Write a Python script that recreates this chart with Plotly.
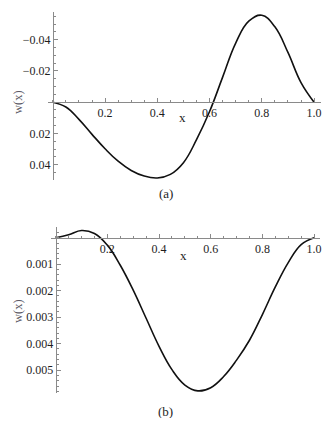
import plotly.graph_objects as go

# ---- data ----
x_vals = [0.0, 0.05, 0.1, 0.15, 0.2, 0.25, 0.3, 0.35, 0.4, 0.45, 0.5,
          0.55, 0.6, 0.65, 0.7, 0.75, 0.8, 0.85, 0.9, 0.95, 1.0]

w_a = [0.0, 0.0031, 0.0110, 0.0206, 0.0298, 0.0378, 0.0437, 0.0473, 0.0485,
       0.0462, 0.0387, 0.0240, 0.0060, -0.0160, -0.0378, -0.0518, -0.0556,
       -0.0482, -0.0318, -0.0125, 0.0]

w_b = [0.0, -0.00011, -0.00027, -0.00016, 0.00028, 0.00104, 0.00198, 0.00304,
       0.00410, 0.00498, 0.00556, 0.00578, 0.00566, 0.00524, 0.00462, 0.00387,
       0.00290, 0.00186, 0.00094, 0.00026, 0.0]

x_ticks = [0.2, 0.4, 0.6, 0.8, 1.0]
x_ticktext = ["0.2", "0.4", "0.6", "0.8", "1.0"]

ya_ticks = [-0.04, -0.02, 0.02, 0.04]
ya_ticktext = ["\u22120.04", "\u22120.02", "0.02", "0.04"]

yb_ticks = [0.001, 0.002, 0.003, 0.004, 0.005]
yb_ticktext = ["0.001", "0.002", "0.003", "0.004", "0.005"]

# page body keeps its default 8px margin, so the figure is drawn 8px in
OFF = 8
W, H = 335 - 2 * OFF, 426 - 2 * OFF
FONT = "Liberation Serif"
AXC = "#8a8a8a"
TXT = "#1e1e1e"


def px_x(p):
    return (p - OFF) / W


def px_y(p):
    return 1 - (p - OFF) / H


fig = go.Figure()
fig.add_trace(go.Scatter(x=x_vals, y=w_a, mode="lines", xaxis="x", yaxis="y",
                         line=dict(color="#111111", width=1.6, shape="spline", smoothing=1.2),
                         hoverinfo="skip", showlegend=False))
fig.add_trace(go.Scatter(x=x_vals, y=w_b, mode="lines", xaxis="x2", yaxis="y2",
                         line=dict(color="#111111", width=1.6, shape="spline", smoothing=1.2),
                         hoverinfo="skip", showlegend=False))

common_x = dict(showline=True, linecolor=AXC, linewidth=1, showgrid=False, zeroline=False,
                ticks="inside", ticklen=4, tickcolor=AXC, tickwidth=1,
                tickfont=dict(family=FONT, size=12, color=TXT),
                minor=dict(ticks="inside", ticklen=2, tickcolor=AXC, tickmode="linear",
                           tick0=0, dtick=0.05, showgrid=False))
common_y = dict(showline=True, linecolor=AXC, linewidth=1, showgrid=False, zeroline=False,
                ticks="inside", ticklen=4, tickcolor=AXC, tickwidth=1,
                tickfont=dict(family=FONT, size=12, color=TXT))

fig.update_layout(
    width=W, height=H,
    margin=dict(l=0, r=0, t=0, b=0),
    paper_bgcolor="white", plot_bgcolor="white",
    xaxis=dict(common_x, domain=[px_x(48), px_x(323)], range=[-0.0194, 1.0266],
               anchor="free", position=px_y(102),
               tickmode="array", tickvals=x_ticks, ticktext=x_ticktext),
    yaxis=dict(common_y, domain=[px_y(180), px_y(11.5)], range=[0.0498, -0.0580],
               anchor="free", position=px_x(53.1),
               tickmode="array", tickvals=ya_ticks, ticktext=ya_ticktext,
               minor=dict(ticks="inside", ticklen=2, tickcolor=AXC, tickmode="linear",
                          tick0=0, dtick=0.005, showgrid=False)),
    xaxis2=dict(common_x, domain=[px_x(51.7), px_x(321.7)], range=[-0.0165, 1.0219],
                anchor="free", position=px_y(237.7),
                tickmode="array", tickvals=x_ticks, ticktext=x_ticktext),
    yaxis2=dict(common_y, domain=[px_y(392.7), px_y(226.7)], range=[0.00585, -0.000415],
                anchor="free", position=px_x(56),
                tickmode="array", tickvals=yb_ticks, ticktext=yb_ticktext,
                minor=dict(ticks="inside", ticklen=2, tickcolor=AXC, tickmode="linear",
                           tick0=0, dtick=0.0002, showgrid=False)),
)

ann_font = dict(family=FONT, size=13, color=TXT)
lab_font = dict(family=FONT, size=12.5, color="#5e5a66")
annotations = [
    dict(text="x", x=px_x(184), y=px_y(117), xref="paper", yref="paper",
         showarrow=False, font=ann_font, xanchor="center", yanchor="middle"),
    dict(text="x", x=px_x(185), y=px_y(255), xref="paper", yref="paper",
         showarrow=False, font=ann_font, xanchor="center", yanchor="middle"),
    dict(text="w(x)", x=px_x(9), y=px_y(102), xref="paper", yref="paper", textangle=-90,
         showarrow=False, font=lab_font, xanchor="left", yanchor="middle"),
    dict(text="w(x)", x=px_x(9), y=px_y(311), xref="paper", yref="paper", textangle=-90,
         showarrow=False, font=lab_font, xanchor="left", yanchor="middle"),
    dict(text="(a)", x=px_x(167), y=px_y(194), xref="paper", yref="paper",
         showarrow=False, font=ann_font, xanchor="center", yanchor="middle"),
    dict(text="(b)", x=px_x(166), y=px_y(411), xref="paper", yref="paper",
         showarrow=False, font=ann_font, xanchor="center", yanchor="middle"),
]
fig.update_layout(annotations=annotations)

fig.write_html("out.html")
